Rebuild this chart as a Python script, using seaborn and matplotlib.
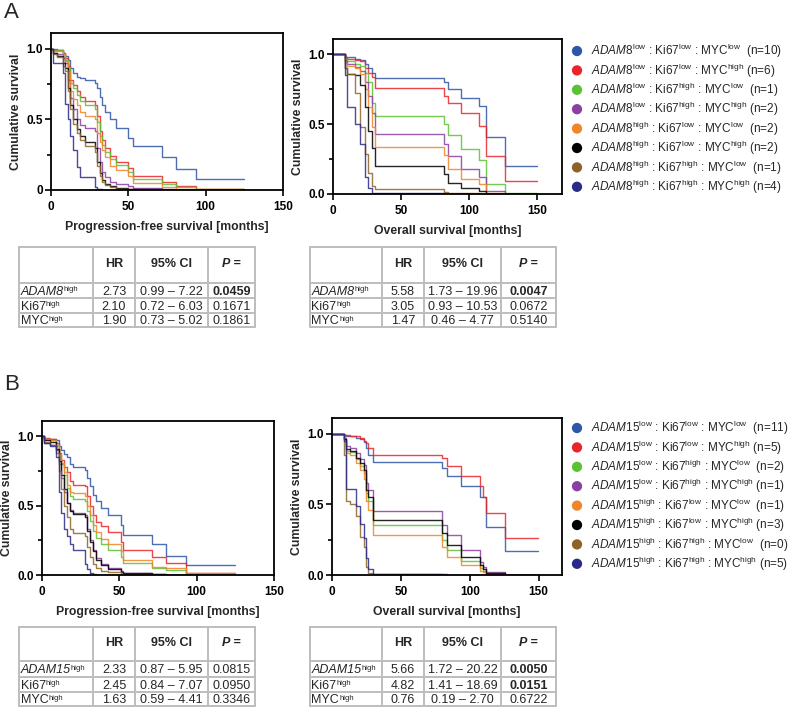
import matplotlib
matplotlib.use("Agg")
import matplotlib.pyplot as plt
import numpy as np
import pandas as pd
import seaborn as sns

# =============================================================================
# DATA
# =============================================================================

levels = [("low", "low", "low"), ("low", "low", "high"), ("low", "high", "low"),
          ("low", "high", "high"), ("high", "low", "low"), ("high", "low", "high"),
          ("high", "high", "low"), ("high", "high", "high")]
n_adam8 = [10, 6, 1, 2, 2, 2, 1, 4]
n_adam15 = [11, 5, 2, 1, 1, 3, 0, 5]
colors = ["#2F55A6", "#E8262A", "#5BC236", "#8A3FA3", "#F0852A", "#000000", "#8F6327", "#2B2A86"]

# A - progression-free survival
t_a_pfs = [0, 1, 4, 8, 9, 11, 12.5, 14.5, 16.5, 19, 22, 28.5, 30, 31.5, 33, 35, 38, 42, 50, 53, 71.5, 80.5, 94, 125]
s_a_pfs = [
    [1, 1.0, 0.99, 0.97, 0.95, 0.92, 0.86, 0.83, 0.80, 0.79, 0.78, 0.76, 0.72, 0.66, 0.60, 0.55, 0.50, 0.44, 0.37, 0.31, 0.23, 0.15, 0.075, 0.075],
    [1, 0.99, 0.99, 0.97, 0.93, 0.88, 0.78, 0.74, 0.70, 0.66, 0.63, 0.60, 0.52, 0.42, 0.35, 0.30, 0.24, 0.20, 0.155, 0.10, 0.06, 0.028, 0.01, 0.01],
    [1, 0.99, 0.99, 0.96, 0.92, 0.87, 0.76, 0.72, 0.67, 0.63, 0.60, 0.57, 0.48, 0.38, 0.32, 0.27, 0.22, 0.18, 0.13, 0.08, 0.045, 0.02, 0.006, 0.006],
    [1, 0.97, 0.96, 0.93, 0.90, 0.78, 0.65, 0.57, 0.50, 0.46, 0.44, 0.42, 0.30, 0.20, 0.13, 0.09, 0.06, 0.04, 0.025, 0.012, 0.006, 0.003, 0.001, 0.001],
    [1, 0.98, 0.98, 0.96, 0.91, 0.84, 0.70, 0.64, 0.60, 0.55, 0.52, 0.50, 0.40, 0.34, 0.28, 0.23, 0.17, 0.14, 0.10, 0.05, 0.02, 0.01, 0.004, 0.004],
    [1, 0.97, 0.95, 0.90, 0.86, 0.72, 0.60, 0.50, 0.43, 0.38, 0.34, 0.30, 0.20, 0.12, 0.07, 0.045, 0.025, 0.015, 0.008, 0.004, 0.002, 0.001, 0.0, 0.0],
    [1, 0.96, 0.94, 0.88, 0.84, 0.70, 0.57, 0.47, 0.40, 0.35, 0.31, 0.27, 0.17, 0.10, 0.06, 0.035, 0.02, 0.01, 0.005, 0.002, 0.001, 0.0, 0.0, 0.0],
    [1, 0.90, 0.90, 0.83, 0.61, 0.50, 0.38, 0.28, 0.165, 0.095, 0.095, 0.024, 0.01, 0.005, 0.002, 0.001, 0, 0, 0, 0, 0, 0, 0, 0],
]

# A - overall survival
t_a_os = [0, 9, 10.5, 16, 20, 23.5, 26, 28.5, 31, 81.4, 84, 93.6, 107, 112, 126, 150]
s_a_os = [
    [1, 0.98, 0.98, 0.97, 0.96, 0.93, 0.90, 0.87, 0.83, 0.80, 0.75, 0.69, 0.63, 0.41, 0.20, 0.20],
    [1, 0.98, 0.97, 0.96, 0.95, 0.90, 0.87, 0.84, 0.76, 0.70, 0.65, 0.58, 0.49, 0.27, 0.095, 0.095],
    [1, 0.96, 0.95, 0.93, 0.92, 0.87, 0.80, 0.65, 0.56, 0.50, 0.42, 0.32, 0.24, 0.07, 0.01, 0.01],
    [1, 0.95, 0.93, 0.91, 0.88, 0.80, 0.70, 0.58, 0.43, 0.36, 0.27, 0.18, 0.12, 0.02, 0.003, 0.003],
    [1, 0.94, 0.92, 0.90, 0.86, 0.75, 0.62, 0.48, 0.34, 0.28, 0.18, 0.11, 0.07, 0.01, 0.0, 0.0],
    [1, 0.90, 0.86, 0.85, 0.78, 0.62, 0.45, 0.33, 0.20, 0.14, 0.08, 0.04, 0.02, 0.003, 0.0, 0.0],
    [1, 0.90, 0.86, 0.72, 0.48, 0.29, 0.15, 0.06, 0.035, 0.015, 0.01, 0.005, 0.002, 0.0, 0.0, 0.0],
    [1, 0.85, 0.62, 0.50, 0.36, 0.12, 0.04, 0.01, 0.004, 0.002, 0.001, 0.0, 0.0, 0.0, 0.0, 0.0],
]

# B - progression-free survival
t_b_pfs = [0, 1, 5, 9, 11, 12.5, 14, 16, 18, 20, 27.5, 29, 31, 33, 35, 38, 42.5, 51, 52.5, 71, 80, 93, 125]
s_b_pfs = [
    [1, 0.98, 0.98, 0.97, 0.93, 0.90, 0.87, 0.85, 0.80, 0.78, 0.76, 0.70, 0.64, 0.58, 0.53, 0.48, 0.43, 0.36, 0.29, 0.22, 0.14, 0.07, 0.07],
    [1, 0.99, 0.98, 0.95, 0.88, 0.83, 0.78, 0.74, 0.68, 0.65, 0.64, 0.57, 0.50, 0.43, 0.38, 0.35, 0.31, 0.24, 0.18, 0.13, 0.09, 0.015, 0.015],
    [1, 0.98, 0.97, 0.93, 0.86, 0.80, 0.72, 0.63, 0.57, 0.55, 0.53, 0.46, 0.39, 0.32, 0.27, 0.22, 0.18, 0.13, 0.09, 0.05, 0.035, 0.008, 0.005],
    [1, 0.95, 0.94, 0.90, 0.80, 0.70, 0.60, 0.52, 0.47, 0.45, 0.43, 0.33, 0.25, 0.18, 0.12, 0.08, 0.05, 0.03, 0.015, 0.007, 0.003, 0.001, 0.001],
    [1, 0.98, 0.97, 0.94, 0.87, 0.81, 0.74, 0.65, 0.60, 0.59, 0.57, 0.50, 0.43, 0.36, 0.31, 0.26, 0.22, 0.17, 0.11, 0.06, 0.048, 0.012, 0.008],
    [1, 0.97, 0.96, 0.91, 0.82, 0.72, 0.62, 0.52, 0.46, 0.44, 0.42, 0.32, 0.24, 0.17, 0.11, 0.075, 0.045, 0.025, 0.012, 0.006, 0.003, 0.001, 0.001],
    [1, 0.96, 0.94, 0.88, 0.75, 0.62, 0.50, 0.42, 0.33, 0.30, 0.28, 0.20, 0.13, 0.08, 0.05, 0.03, 0.02, 0.01, 0.005, 0.003, 0.001, 0.0, 0.0],
    [1, 0.95, 0.93, 0.85, 0.60, 0.45, 0.33, 0.28, 0.22, 0.18, 0.08, 0.04, 0.015, 0.005, 0.002, 0.001, 0, 0, 0, 0, 0, 0, 0],
]

# B - overall survival
t_b_os = [0, 9, 10.5, 13, 17.5, 20.5, 23, 24.5, 26.5, 29.5, 80.2, 83.8, 93.5, 107.5, 109.5, 111.6, 125.4, 149.5]
s_b_os = [
    [1, 0.99, 0.98, 0.98, 0.97, 0.96, 0.94, 0.90, 0.85, 0.80, 0.76, 0.70, 0.63, 0.55, 0.55, 0.34, 0.17, 0.17],
    [1, 0.99, 0.99, 0.98, 0.98, 0.97, 0.95, 0.93, 0.90, 0.85, 0.83, 0.77, 0.70, 0.63, 0.55, 0.44, 0.26, 0.26],
    [1, 0.96, 0.88, 0.87, 0.82, 0.77, 0.72, 0.58, 0.52, 0.35, 0.25, 0.18, 0.10, 0.05, 0.03, 0.01, 0.001, 0.001],
    [1, 0.97, 0.91, 0.90, 0.86, 0.82, 0.78, 0.65, 0.60, 0.45, 0.35, 0.28, 0.18, 0.09, 0.06, 0.02, 0.002, 0.002],
    [1, 0.95, 0.86, 0.85, 0.79, 0.74, 0.68, 0.52, 0.46, 0.28, 0.20, 0.13, 0.07, 0.03, 0.02, 0.005, 0.0, 0.0],
    [1, 0.96, 0.89, 0.88, 0.83, 0.79, 0.74, 0.60, 0.55, 0.39, 0.30, 0.21, 0.13, 0.07, 0.045, 0.015, 0.001, 0.001],
    [1, 0.85, 0.52, 0.50, 0.42, 0.27, 0.20, 0.06, 0.015, 0.004, 0.002, 0.001, 0, 0, 0, 0, 0, 0],
    [1, 0.95, 0.61, 0.61, 0.49, 0.36, 0.26, 0.12, 0.04, 0.01, 0.005, 0.003, 0.001, 0, 0, 0, 0, 0],
]

# Cox tables
markers = ["Ki67", "MYC"]
hr_a_pfs = ["2.73", "2.10", "1.90"]
ci_a_pfs = ["0.99 – 7.22", "0.72 – 6.03", "0.73 – 5.02"]
p_a_pfs = ["0.0459", "0.1671", "0.1861"]
sig_a_pfs = [True, False, False]

hr_a_os = ["5.58", "3.05", "1.47"]
ci_a_os = ["1.73 – 19.96", "0.93 – 10.53", "0.46 – 4.77"]
p_a_os = ["0.0047", "0.0672", "0.5140"]
sig_a_os = [True, False, False]

hr_b_pfs = ["2.33", "2.45", "1.63"]
ci_b_pfs = ["0.87 – 5.95", "0.84 – 7.07", "0.59 – 4.41"]
p_b_pfs = ["0.0815", "0.0950", "0.3346"]
sig_b_pfs = [False, False, False]

hr_b_os = ["5.66", "4.82", "0.76"]
ci_b_os = ["1.72 – 20.22", "1.41 – 18.69", "0.19 – 2.70"]
p_b_os = ["0.0050", "0.0151", "0.6722"]
sig_b_os = [True, True, False]

# =============================================================================
# STYLE
# =============================================================================

sns.set_style("ticks")
plt.rcParams["font.family"] = ["Liberation Sans", "DejaVu Sans"]
plt.rcParams["mathtext.fontset"] = "custom"
plt.rcParams["mathtext.rm"] = "Liberation Sans"
plt.rcParams["mathtext.it"] = "Liberation Sans:italic"
plt.rcParams["mathtext.bf"] = "Liberation Sans:bold"

W, H = 790, 709
fig = plt.figure(figsize=(W / 100, H / 100), dpi=100)
renderer = fig.canvas.get_renderer()


def px_rect(l, t, r, b):
    return [l / W, 1 - b / H, (r - l) / W, (b - t) / H]


def group_label(gene, lv, n):
    g, k, m = lv
    gap = "  " if m == "low" else " "
    return (r"$\it{%s}^{\rm %s}$ : Ki67$^{\rm %s}$ : MYC$^{\rm %s}$%s(n=%d)"
            % (gene, g, k, m, gap, n))


def km_panel(rect, times, curves, xmax, xlabel, ylabels):
    ax = fig.add_axes(rect)
    names = [f"g{i}" for i in range(len(curves))]
    rows = []
    for name, surv in zip(names, curves):
        for t, s in zip(times, surv):
            rows.append({"months": t, "survival": s, "group": name})
    df = pd.DataFrame(rows)
    sns.lineplot(data=df, x="months", y="survival", hue="group", hue_order=names,
                 palette=colors, estimator=None, sort=True, drawstyle="steps-post",
                 linewidth=1.0, alpha=0.85, legend=False, ax=ax)
    ax.set_xlim(0, xmax)
    ax.set_ylim(0, 1.11)
    ax.set_xticks([0, 50, 100, 150])
    ax.set_yticks([0, 0.5, 1.0])
    ax.set_yticklabels(ylabels)
    ax.set_yticks([0.25, 0.75], minor=True)
    ax.tick_params(which="both", direction="out", width=1.2, colors="black")
    ax.tick_params(which="major", length=4, labelsize=8.5)
    ax.tick_params(axis="x", which="major", pad=4)
    ax.tick_params(axis="y", which="major", pad=2)
    ax.tick_params(which="minor", length=3)
    for lbl in ax.get_xticklabels() + ax.get_yticklabels():
        lbl.set_fontweight("bold")
    for sp in ax.spines.values():
        sp.set_linewidth(1.3)
        sp.set_color("black")
    ax.set_xlabel(xlabel, fontsize=8.8, fontweight="bold", labelpad=6)
    ax.set_ylabel("Cumulative survival", fontsize=8.8, fontweight="bold", labelpad=3)
    return ax


def legend_block(top, gene, ns):
    step = 19.4
    lax = fig.add_axes(px_rect(566, top - 10, 790, top + step * 7 + 10))
    lax.set_xlim(566, 790)
    lax.set_ylim(top + step * 7 + 10, top - 10)
    lax.axis("off")
    for i, (lv, n) in enumerate(zip(levels, ns)):
        y = top + step * i
        lax.scatter([577], [y], s=55, color=colors[i], edgecolor="none")
        lax.text(591, y, group_label(gene, lv, n), fontsize=8.5, va="center", ha="left")


def sup_label(ax, x, y, base, italic, fs):
    t = ax.text(x, y, base, fontsize=fs, fontstyle="italic" if italic else "normal",
                ha="left", va="baseline")
    bb = t.get_window_extent(renderer=renderer)
    x1 = ax.transData.inverted().transform((bb.x1, bb.y0))[0]
    ax.text(x1 + 0.3, y - 3.6, "high", fontsize=fs * 0.62, ha="left", va="baseline")


def cox_table(left, top, cols, rows_y, gene, hr, ci, pv, sig):
    right, bottom = cols[-1], rows_y[-1]
    tax = fig.add_axes(px_rect(left, top, right, bottom))
    tax.set_xlim(left, right)
    tax.set_ylim(bottom, top)
    tax.axis("off")
    edges_x = [left] + cols
    edges_y = [top] + rows_y
    line_kw = dict(color="#BDBDBD", lw=1.4, clip_on=False)
    for x in edges_x:
        tax.plot([x, x], [top, bottom], **line_kw)
    for y in edges_y:
        tax.plot([left, right], [y, y], **line_kw)
    cx = [(edges_x[i] + edges_x[i + 1]) / 2 for i in range(4)]
    cy = [(edges_y[i] + edges_y[i + 1]) / 2 for i in range(4)]
    fs = 9
    tax.text(cx[1], cy[0] - 1, "HR", fontsize=fs, fontweight="bold", ha="center", va="center")
    tax.text(cx[2], cy[0] - 1, "95% CI", fontsize=fs, fontweight="bold", ha="center", va="center")
    tax.text(cx[3], cy[0] - 1, "P =", fontsize=fs, fontweight="bold", fontstyle="italic",
             ha="center", va="center")
    bases = [gene] + markers
    for r in range(3):
        y = cy[r + 1]
        sup_label(tax, left + 1.5, y + 4.3, bases[r], r == 0, fs)
        tax.text(cx[1], y + 4.3, hr[r], fontsize=fs, ha="center", va="baseline")
        tax.text(cx[2], y + 4.3, ci[r], fontsize=fs, ha="center", va="baseline")
        tax.text(cx[3], y + 4.3, pv[r], fontsize=fs, ha="center", va="baseline",
                 fontweight="bold" if sig[r] else "normal")


# =============================================================================
# PANEL A
# =============================================================================

fig.text(4 / W, 1 - 2 / H, "A", fontsize=16, va="top", ha="left")
km_panel(px_rect(51, 33, 283, 190), t_a_pfs, s_a_pfs, 150,
         "Progression-free survival [months]", ["0", "0.5", "1.0"])
km_panel(px_rect(333, 39, 562, 194), t_a_os, s_a_os, 168,
         "Overall survival [months]", ["0.0", "0.5", "1.0"])
legend_block(51, "ADAM8", n_adam8)

rows_a = [283, 298, 313, 327]
cox_table(19, 247, [93, 135, 208, 255], rows_a, "ADAM8", hr_a_pfs, ci_a_pfs, p_a_pfs, sig_a_pfs)
cox_table(310, 247, [382, 424, 501, 556], rows_a, "ADAM8", hr_a_os, ci_a_os, p_a_os, sig_a_os)

# =============================================================================
# PANEL B
# =============================================================================

fig.text(4 / W, 1 - 374 / H, "B", fontsize=16, va="top", ha="left")
km_panel(px_rect(42, 421, 274, 575), t_b_pfs, s_b_pfs, 150,
         "Progression-free survival [months]", ["0.0", "0.5", "1.0"])
km_panel(px_rect(332, 418, 562, 575), t_b_os, s_b_os, 167,
         "Overall survival [months]", ["0.0", "0.5", "1.0"])
legend_block(428, "ADAM15", n_adam15)

rows_b = [661, 677, 692, 706]
cox_table(19, 627, [93, 135, 208, 255], rows_b, "ADAM15", hr_b_pfs, ci_b_pfs, p_b_pfs, sig_b_pfs)
cox_table(310, 627, [382, 424, 501, 556], rows_b, "ADAM15", hr_b_os, ci_b_os, p_b_os, sig_b_os)

fig.savefig("out.png", dpi=100)
